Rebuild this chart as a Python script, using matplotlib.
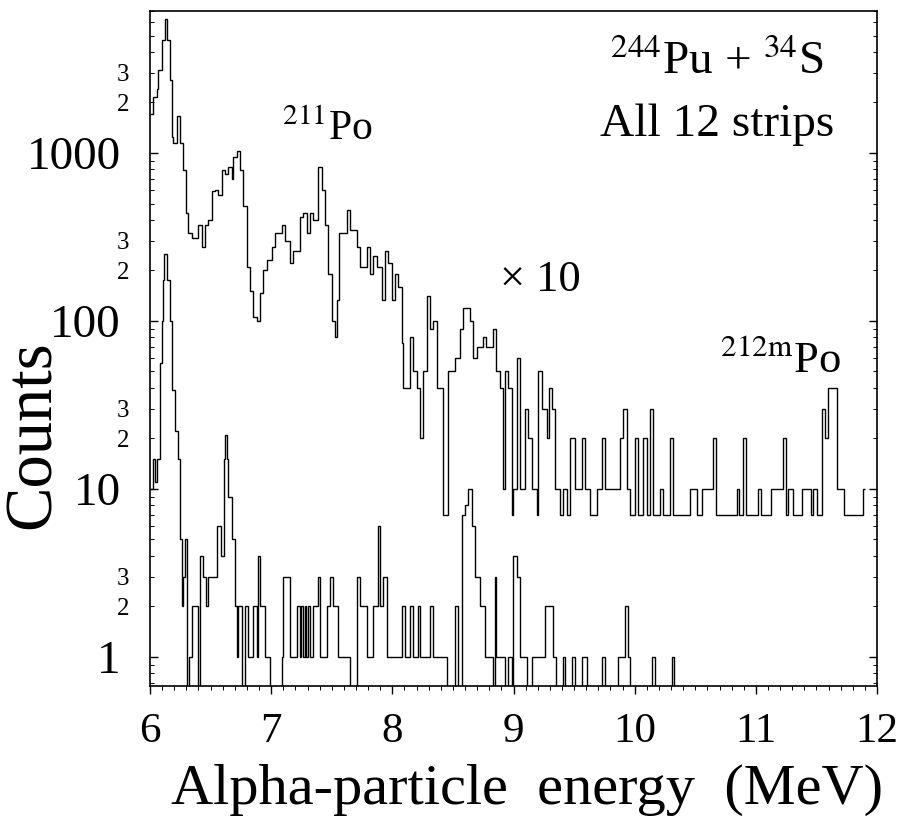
import numpy as np
import matplotlib
matplotlib.use("Agg")
import matplotlib.pyplot as plt
from matplotlib.ticker import LogLocator, FixedLocator, FuncFormatter, MultipleLocator

plt.rcParams['font.family'] = ['Liberation Serif', 'DejaVu Serif']
plt.rcParams['mathtext.fontset'] = 'stix'

# upper spectrum (shown x10), step edges in MeV and heights
upper_edges = [6.000, 6.027, 6.055, 6.068, 6.097, 6.124, 6.138, 6.165, 6.179, 6.192,
               6.225, 6.248, 6.275, 6.297, 6.316, 6.344, 6.399, 6.427, 6.454, 6.481,
               6.509, 6.536, 6.564, 6.592, 6.619, 6.646, 6.674, 6.687, 6.715, 6.743,
               6.770, 6.798, 6.825, 6.852, 6.880, 6.908, 6.935, 6.963, 7.004, 7.031,
               7.087, 7.114, 7.155, 7.182, 7.238, 7.265, 7.293, 7.320, 7.347, 7.389,
               7.417, 7.444, 7.471, 7.499, 7.526, 7.545, 7.562, 7.623, 7.650, 7.705,
               7.733, 7.788, 7.815, 7.842, 7.870, 7.912, 7.939, 7.966, 7.994, 8.021,
               8.049, 8.077, 8.090, 8.145, 8.172, 8.200, 8.228, 8.254, 8.282, 8.310,
               8.337, 8.365, 8.420, 8.461, 8.517, 8.558, 8.585, 8.640, 8.668, 8.696,
               8.750, 8.777, 8.832, 8.859, 8.888, 8.915, 8.929, 8.956, 8.984, 8.997,
               9.025, 9.053, 9.094, 9.121, 9.149, 9.190, 9.203, 9.239, 9.273, 9.289,
               9.317, 9.344, 9.383, 9.410, 9.438, 9.465, 9.507, 9.562, 9.589, 9.630,
               9.686, 9.727, 9.754, 9.878, 9.905, 9.933, 9.960, 10.002, 10.029, 10.070,
               10.098, 10.125, 10.152, 10.208, 10.234, 10.290, 10.313, 10.455, 10.511, 10.552,
               10.648, 10.675, 10.841, 10.857, 10.895, 10.917, 11.019, 11.046, 11.121, 11.225,
               11.248, 11.267, 11.308, 11.377, 11.452, 11.472, 11.501, 11.542, 11.569, 11.597,
               11.666, 11.726, 11.885, 11.898]
upper_counts = [1700, 2150, 2400, 3100, 4700, 6300, 4700, 2700, 1250, 1150,
                1650, 1150, 790, 440, 335, 310, 370, 275, 370, 400,
                590, 600, 560, 790, 750, 830, 700, 950, 1030, 790,
                480, 210, 150, 105, 100, 147, 200, 230, 275, 335,
                370, 300, 220, 260, 415, 440, 335, 440, 400, 830,
                600, 370, 190, 100, 80, 133, 335, 460, 350, 275,
                210, 275, 190, 245, 210, 133, 260, 220, 133, 190,
                160, 74, 40, 80, 50, 40, 20, 50, 140, 90,
                100, 40, 7, 50, 60, 90, 120, 100, 60, 70,
                80, 70, 90, 50, 40, 10, 50, 40, 7, 10,
                60, 10, 30, 20, 10, 7, 50, 30, 20, 40,
                30, 10, 7, 10, 7, 20, 10, 20, 10, 7,
                10, 20, 10, 20, 30, 10, 7, 20, 7, 20,
                7, 30, 7, 10, 7, 20, 7, 10, 7, 10,
                20, 7, 10, 7, 20, 7, 10, 7, 10, 20,
                7, 10, 7, 10, 7, 10, 7, 30, 20, 40,
                10, 7, 10]

# lower spectrum (raw counts)
lower_edges = [6.000, 6.027, 6.041, 6.055, 6.083, 6.097, 6.110, 6.116, 6.138, 6.165,
               6.179, 6.206, 6.233, 6.248, 6.260, 6.274, 6.289, 6.307, 6.323, 6.344,
               6.399, 6.413, 6.440, 6.462, 6.481, 6.550, 6.583, 6.611, 6.621, 6.633,
               6.644, 6.674, 6.701, 6.715, 6.729, 6.757, 6.784, 6.811, 6.852, 6.883,
               6.893, 6.908, 6.949, 6.990, 7.087, 7.099, 7.155, 7.210, 7.238, 7.250,
               7.264, 7.279, 7.291, 7.305, 7.320, 7.347, 7.389, 7.403, 7.458, 7.485,
               7.512, 7.554, 7.650, 7.705, 7.733, 7.788, 7.842, 7.878, 7.898, 7.924,
               7.952, 8.077, 8.104, 8.145, 8.172, 8.214, 8.228, 8.310, 8.337, 8.448,
               8.517, 8.543, 8.572, 8.599, 8.626, 8.654, 8.681, 8.723, 8.764, 8.832,
               8.847, 8.859, 8.929, 8.956, 8.984, 8.997, 9.025, 9.053, 9.108, 9.149,
               9.259, 9.327, 9.354, 9.409, 9.424, 9.479, 9.507, 9.562, 9.603, 9.727,
               9.754, 9.864, 9.919, 9.941, 9.960, 10.139, 10.167, 10.304, 10.323, 12.000]
lower_counts = [10, 15, 11, 15, 56, 100, 175, 250, 175, 100,
                39, 22, 15, 5, 2, 3, 5, 0, 1, 2,
                0, 4, 3, 2, 3, 6, 4, 15, 21, 15,
                9, 5, 2, 1, 2, 0, 2, 1, 2, 1,
                4, 2, 1, 0, 1, 3, 1, 2, 1, 2,
                1, 2, 1, 2, 1, 2, 3, 1, 2, 3,
                2, 1, 0, 3, 2, 1, 2, 6, 2, 3,
                1, 2, 1, 2, 1, 2, 1, 2, 1, 0,
                2, 0, 7, 8, 10, 6, 3, 2, 1, 0,
                3, 1, 0, 1, 0, 4, 3, 1, 0, 1,
                2, 1, 0, 1, 0, 1, 0, 1, 0, 1,
                0, 1, 2, 1, 0, 1, 0, 1, 0]

x_ticks = [6, 7, 8, 9, 10, 11, 12]

fig = plt.figure(figsize=(9.13, 8.21), dpi=100)
ax = fig.add_axes([0.1643, 0.1644, 0.7963, 0.8222])

# zero-count bins drop to the floor of the log axis
up = np.array(upper_counts, dtype=float)
lo = np.array(lower_counts, dtype=float)
ax.stairs(np.where(up > 0, up, 0.1), upper_edges, baseline=None, color='black', lw=1.0)
ax.stairs(np.where(lo > 0, lo, 0.1), lower_edges, baseline=None, color='black', lw=1.0)

ax.set_yscale('log')
ax.set_xlim(6, 12)
ax.set_ylim(0.67, 7000)

ax.xaxis.set_major_locator(FixedLocator(x_ticks))
ax.xaxis.set_minor_locator(MultipleLocator(0.1))
ax.yaxis.set_major_locator(LogLocator(base=10, numticks=10))
ax.yaxis.set_minor_locator(LogLocator(base=10, subs=np.arange(2, 10), numticks=20))
ax.yaxis.set_major_formatter(FuncFormatter(lambda v, p: f"{v:g}"))


def minor_fmt(v, pos):
    m = v / 10 ** np.floor(np.log10(v) + 1e-9)
    if abs(m - 2) < 0.01:
        return '2'
    if abs(m - 3) < 0.01:
        return '3'
    return ''


ax.yaxis.set_minor_formatter(FuncFormatter(minor_fmt))

ax.tick_params(axis='x', which='major', direction='out', length=6, width=1,
               labelsize=31, pad=13, top=False)
ax.tick_params(axis='x', which='minor', direction='out', length=3, width=0.7, top=False)
ax.tick_params(axis='y', which='major', direction='in', length=6, width=1,
               labelsize=34, pad=21, right=True)
ax.tick_params(axis='y', which='minor', direction='in', length=3, width=0.7,
               labelsize=18, pad=15, right=True)

for s in ax.spines.values():
    s.set_linewidth(1.2)

ax.set_xlabel('Alpha-particle  energy  (MeV)', fontsize=42)
ax.xaxis.set_label_coords(0.519, -0.154)
ax.xaxis.label.set_va('center')
ax.set_ylabel('Counts', fontsize=48)
ax.yaxis.set_label_coords(-0.16, 0.372)
ax.yaxis.label.set_va('center')

ax.text(0.78, 0.925, r'$^{244}$Pu + $^{34}$S', transform=ax.transAxes,
        fontsize=34, ha='center', va='center')
ax.text(0.78, 0.831, 'All 12 strips', transform=ax.transAxes,
        fontsize=34, ha='center', va='center')
ax.text(7.46, 1370, r'$^{211}$Po', fontsize=30, ha='center', va='center')
ax.text(9.22, 175, '\u00d7 10', fontsize=32, ha='center', va='center')
ax.text(11.2, 58, r'$^{212\mathrm{m}}$Po', fontsize=32, ha='center', va='center')

fig.savefig('out.png', dpi=100)
